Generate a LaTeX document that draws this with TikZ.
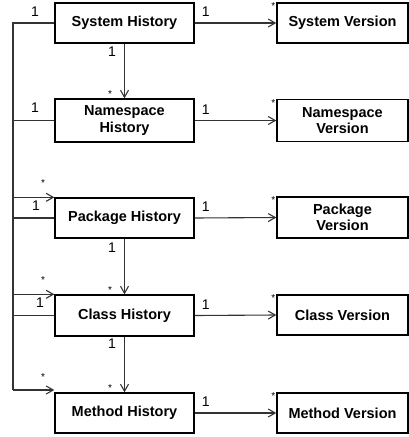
\documentclass[tikz,border=0pt]{standalone}
\usepackage{fontspec}
\setmainfont{Liberation Sans}
\usetikzlibrary{arrows.meta}

\tikzset{
  hist/.style={draw, line width=1.4pt, inner sep=0pt, minimum width=139pt, minimum height=40pt,
    align=center, font=\bfseries\fontsize{14.5}{16.5}\selectfont},
  vers/.style={hist, minimum width=131pt},
  link/.style={line width=1.1pt, draw=black!80},
  assoc/.style={link, -{Straight Barb[length=7pt,width=8pt,line width=1.1pt]}},
  one/.style={inner sep=0pt, font=\fontsize{14}{14}\selectfont},
  many/.style={inner sep=0pt, font=\fontsize{10}{10}\selectfont}
}

\begin{document}
\begin{tikzpicture}[x=1pt,y=1pt,yscale=-1,xscale=1]
\useasboundingbox (0,0) rectangle (409,437);

%History boxes
\node [hist] (sysH) at (124.5,23) {System History};
\node [hist, minimum height=43pt] (nsH) at (124.5,120.5) {Namespace\\History};
\node [hist] (pkgH) at (124.5,218) {Package History};
\node [hist, minimum height=41pt] (clsH) at (124.5,315.5) {Class History};
\node [hist] (metH) at (124.5,413) {Method History};

%Version boxes
\node [vers] (sysV) at (342.5,23) {System Version};
\node [vers, minimum height=42pt] (nsV) at (342.5,120.5) {Namespace\\Version};
\node [vers, minimum height=41pt] (pkgV) at (342.5,217.5) {Package\\Version};
\node [vers] (clsV) at (342.5,315) {Class Version};
\node [vers] (metV) at (342.5,413) {Method Version};

%History to version
\foreach \h/\v in {sysH/sysV, nsH/nsV, pkgH/pkgV, clsH/clsV, metH/metV}{
  \draw [assoc] (\h.east) -- (\v.west);
  \node [one] (\h-one) at ([xshift=11pt,yshift=-11pt]\h.east) {1};
  \node [many] (\v-many) at ([xshift=-3pt,yshift=4pt]\v.north west) {*};
}

%History to history
\draw [assoc] (sysH.south) -- (nsH.north);
\draw [assoc] (pkgH.south) -- (clsH.north);
\draw [assoc] (clsH.south) -- (metH.north);
\node [one] (sysH-down) at (112,52) {1};
\node [many] (nsH-up) at (110,94) {*};
\node [one] (pkgH-down) at (112,248) {1};
\node [many] (clsH-up) at (110,290) {*};
\node [one] (clsH-down) at (112,344) {1};
\node [many] (metH-up) at (110,388) {*};

%Left bus
\coordinate (busTop) at (13,23);
\coordinate (busBot) at (13,390);
\draw [link] (sysH.west) -- (busTop) -- (busBot);
\draw [link] (busTop |- nsH.west) -- (nsH.west);
\draw [link] (busTop |- pkgH.west) -- (pkgH.west);
\draw [link] (busTop |- clsH.west) -- (clsH.west);
\draw [assoc] (busTop |- pkgH.north west) -- (pkgH.north west);
\draw [assoc] (busTop |- clsH.north west) -- (clsH.north west);
\draw [assoc] (busBot) -- (busBot -| metH.west);

% Text Node
\node [one] (sysH-bus) at (35,12) {1};
\node [one] (nsH-bus) at (35,108) {1};
\node [many] (pkgH-star) at (43,183) {*};
\node [one] (pkgH-bus) at (36,206) {1};
\node [many] (clsH-star) at (43,280) {*};
\node [one] (clsH-bus) at (40,303) {1};
\node [many] (metH-star) at (43,377) {*};

\end{tikzpicture}
\end{document}
